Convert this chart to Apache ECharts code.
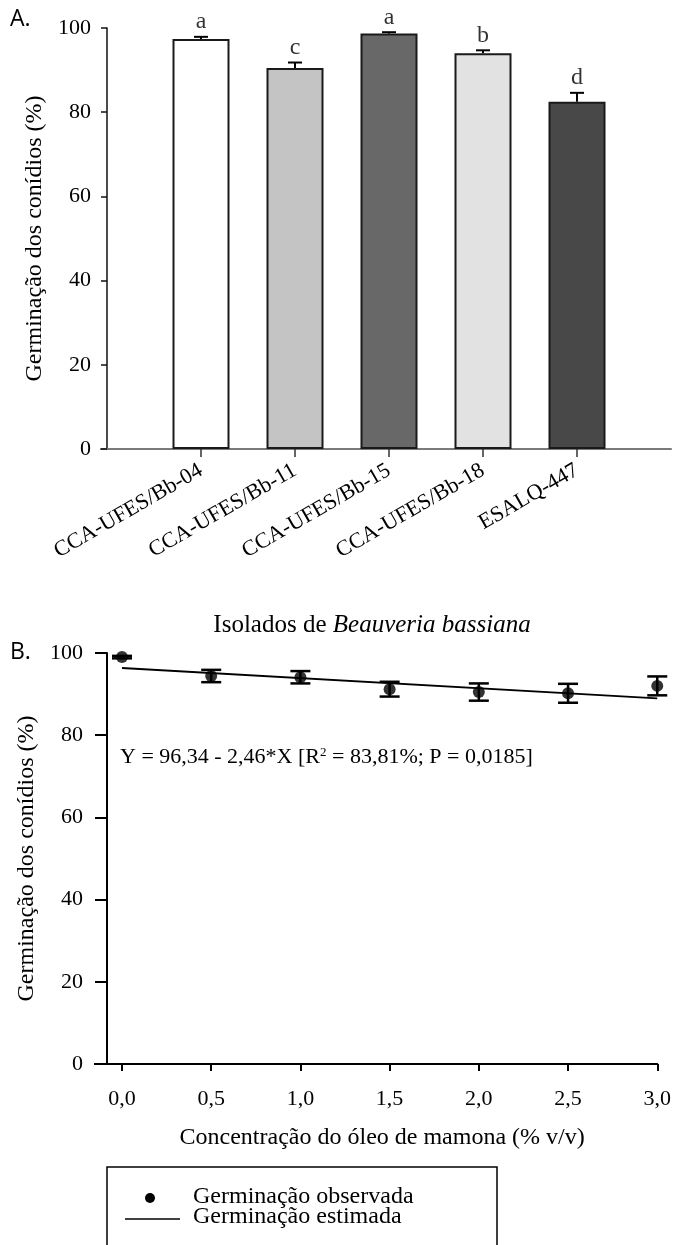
<!DOCTYPE html>
<html>
<head>
<meta charset="utf-8">
<script src="https://cdn.jsdelivr.net/npm/echarts@6/dist/echarts.min.js"></script>
<style>
    body { margin: 0; background: #fff; }
    #main { width: 674px; height: 1245px; }
</style>
</head>
<body>
<div id="main"></div>
<script>
// A. germinação por isolado
var isolados = ['CCA-UFES/Bb-04', 'CCA-UFES/Bb-11', 'CCA-UFES/Bb-15', 'CCA-UFES/Bb-18', 'ESALQ-447'];
var germIsolado = [97.4, 90.5, 98.7, 94.0, 82.5];
var erroIsolado = [0.5, 1.3, 0.3, 0.7, 2.1];
var letras = ['a', 'c', 'a', 'b', 'd'];
var coresBarra = ['#ffffff', '#c4c4c4', '#686868', '#e2e2e2', '#484848'];

// B. germinação x concentração do óleo
var concentracao = [0, 0.5, 1.0, 1.5, 2.0, 2.5, 3.0];
var germObservada = [99.0, 94.4, 94.1, 91.2, 90.5, 90.2, 92.0];
var erroObservada = [0.3, 1.5, 1.5, 1.8, 2.1, 2.3, 2.3];
var retaX = [0, 3.0];
var retaY = [96.34, 88.96];
var ticksX = [0, 0.5, 1.0, 1.5, 2.0, 2.5, 3.0];
var ticksXLabel = ['0,0', '0,5', '1,0', '1,5', '2,0', '2,5', '3,0'];

var serif = '"Liberation Serif", "Times New Roman", serif';
var sans = '"Open Sans", "Noto Sans", sans-serif';

var myChart = echarts.init(document.getElementById('main'));

// categorias com posições vazias nas pontas
var categorias = [''].concat(isolados).concat(['']);
var soMeio = function (index) {
    return index > 0 && index < categorias.length - 1;
};

var each = function (arr, fn) {
    for (var i = 0; i < arr.length; i++) fn(i, arr[i]);
};

var barras = [], letraPts = [], erroBarra = [];
each(germIsolado, function (i, v) {
    barras.push({
        value: [i + 1, v],
        itemStyle: {color: coresBarra[i]}
    });
    erroBarra.push([i + 1, v, erroIsolado[i]]);
    letraPts.push({value: [i + 1, v + erroIsolado[i]], letra: letras[i]});
});

var pontos = [], erroPontos = [], reta = [];
each(concentracao, function (i, x) {
    pontos.push([x, germObservada[i]]);
    erroPontos.push([x, germObservada[i], erroObservada[i]]);
});
each(retaX, function (i, x) {
    reta.push([x, retaY[i]]);
});

var eixoNome = {fontFamily: serif, fontSize: 24, color: '#000'};

var option = {
    animation: false,
    backgroundColor: '#fff',
    grid: [
        {left: 107, right: 3, top: 28, height: 421},
        {left: 107, width: 551, top: 653, height: 411}
    ],
    xAxis: [
        {
            gridIndex: 0,
            type: 'category',
            data: categorias,
            boundaryGap: false,
            axisLine: {onZero: false, lineStyle: {color: '#7a7a7a', width: 2}},
            axisTick: {length: 8, interval: soMeio, lineStyle: {color: '#333', width: 1.5}},
            axisLabel: {
                interval: soMeio,
                rotate: 30,
                margin: 20,
                fontFamily: serif,
                fontSize: 22,
                color: '#000'
            },
            splitLine: {show: false}
        },
        {
            gridIndex: 1,
            type: 'value',
            min: -0.084,
            max: 3.0,
            name: 'Concentração do óleo de mamona (% v/v)',
            nameLocation: 'middle',
            nameGap: 62,
            nameTextStyle: eixoNome,
            axisLine: {onZero: false, lineStyle: {color: '#000', width: 2}},
            axisTick: {length: 7, customValues: ticksX, lineStyle: {color: '#000', width: 2}},
            axisLabel: {
                customValues: ticksX,
                margin: 24,
                fontFamily: serif,
                fontSize: 22,
                color: '#000',
                formatter: function (v) {
                    var k = ticksX.indexOf(v);
                    return k >= 0 ? ticksXLabel[k] : '';
                }
            },
            splitLine: {show: false}
        }
    ],
    yAxis: [
        {
            gridIndex: 0,
            type: 'value',
            min: 0,
            max: 100,
            interval: 20,
            name: 'Germinação dos conídios (%)',
            nameLocation: 'middle',
            nameGap: 60,
            nameTextStyle: eixoNome,
            axisLine: {show: true, onZero: false, lineStyle: {color: '#111', width: 1.5}},
            axisTick: {show: true, length: 6, lineStyle: {color: '#111', width: 1.5}},
            axisLabel: {margin: 16, fontFamily: serif, fontSize: 22, color: '#000'},
            splitLine: {show: false}
        },
        {
            gridIndex: 1,
            type: 'value',
            min: 0,
            max: 100,
            interval: 20,
            name: 'Germinação dos conídios (%)',
            nameLocation: 'middle',
            nameGap: 60,
            nameTextStyle: eixoNome,
            axisLine: {show: true, onZero: false, lineStyle: {color: '#000', width: 2}},
            axisTick: {show: true, length: 12, lineStyle: {color: '#000', width: 2}},
            axisLabel: {margin: 24, fontFamily: serif, fontSize: 22, color: '#000'},
            splitLine: {show: false}
        }
    ],
    series: [
        {
            type: 'bar',
            xAxisIndex: 0,
            yAxisIndex: 0,
            barWidth: 57,
            data: barras,
            itemStyle: {borderColor: '#1a1a1a', borderWidth: 2}
        },
        {
            // barra de erro (só para cima)
            type: 'custom',
            xAxisIndex: 0,
            yAxisIndex: 0,
            data: erroBarra,
            z: 5,
            renderItem: function (params, api) {
                var x = api.value(0), v = api.value(1), e = api.value(2);
                var p0 = api.coord([x, v]);
                var p1 = api.coord([x, v + e]);
                var st = {stroke: '#000', lineWidth: 2};
                return {
                    type: 'group',
                    children: [
                        {type: 'line', shape: {x1: p0[0], y1: p0[1], x2: p1[0], y2: p1[1]}, style: st},
                        {type: 'line', shape: {x1: p1[0] - 7, y1: p1[1], x2: p1[0] + 7, y2: p1[1]}, style: st}
                    ]
                };
            }
        },
        {
            // letras da comparação de médias
            type: 'scatter',
            xAxisIndex: 0,
            yAxisIndex: 0,
            symbolSize: 0,
            data: letraPts,
            label: {
                show: true,
                position: 'top',
                distance: 3,
                fontFamily: serif,
                fontSize: 24,
                color: '#000',
                formatter: function (p) {
                    return p.data.letra;
                }
            }
        },
        {
            type: 'custom',
            xAxisIndex: 1,
            yAxisIndex: 1,
            data: erroPontos,
            z: 3,
            renderItem: function (params, api) {
                var x = api.value(0), v = api.value(1), e = api.value(2);
                var a = api.coord([x, v - e]);
                var b = api.coord([x, v + e]);
                var st = {stroke: '#000', lineWidth: 2.5};
                return {
                    type: 'group',
                    children: [
                        {type: 'line', shape: {x1: a[0], y1: a[1], x2: b[0], y2: b[1]}, style: st},
                        {type: 'line', shape: {x1: a[0] - 10, y1: a[1], x2: a[0] + 10, y2: a[1]}, style: st},
                        {type: 'line', shape: {x1: b[0] - 10, y1: b[1], x2: b[0] + 10, y2: b[1]}, style: st}
                    ]
                };
            }
        },
        {
            name: 'Germinação estimada',
            type: 'line',
            xAxisIndex: 1,
            yAxisIndex: 1,
            data: reta,
            symbol: 'none',
            z: 4,
            lineStyle: {color: '#000', width: 2}
        },
        {
            name: 'Germinação observada',
            type: 'scatter',
            xAxisIndex: 1,
            yAxisIndex: 1,
            data: pontos,
            symbolSize: 12,
            z: 6,
            itemStyle: {color: '#000'}
        }
    ],
    graphic: [
        {type: 'text', left: 10, top: 8, style: {text: 'A.', font: '23px ' + sans, fill: '#000'}},
        {type: 'text', left: 10, top: 641, style: {text: 'B.', font: '23px ' + sans, fill: '#000'}},
        {
            type: 'text',
            x: 372,
            y: 625,
            style: {
                text: 'Isolados de {i|Beauveria bassiana}',
                align: 'center',
                verticalAlign: 'middle',
                fontFamily: serif,
                fontSize: 25,
                fill: '#000',
                rich: {i: {fontStyle: 'italic', fontFamily: serif, fontSize: 25}}
            }
        },
        {
            type: 'text',
            x: 120,
            y: 757,
            style: {
                text: 'Y = 96,34 - 2,46*X [R{sup|2} = 83,81%; P = 0,0185]',
                verticalAlign: 'middle',
                fontFamily: serif,
                fontSize: 22,
                fill: '#000',
                rich: {sup: {fontFamily: serif, fontSize: 13, verticalAlign: 'top', lineHeight: 22}}
            }
        },
        // segmento do eixo x à esquerda do eixo y
        {type: 'line', shape: {x1: 100, y1: 449, x2: 107, y2: 449}, style: {stroke: '#7a7a7a', lineWidth: 2}},
        {type: 'line', shape: {x1: 94, y1: 1064, x2: 107, y2: 1064}, style: {stroke: '#000', lineWidth: 2}},
        // legenda
        {
            type: 'rect',
            shape: {x: 107, y: 1167, width: 390, height: 110},
            style: {fill: 'none', stroke: '#000', lineWidth: 1.5}
        },
        {type: 'circle', shape: {cx: 150, cy: 1198, r: 5}, style: {fill: '#000'}},
        {type: 'line', shape: {x1: 125, y1: 1219, x2: 180, y2: 1219}, style: {stroke: '#000', lineWidth: 1.5}},
        {
            type: 'text', x: 193, y: 1197,
            style: {text: 'Germinação observada', verticalAlign: 'middle', fontFamily: serif, fontSize: 24, fill: '#000'}
        },
        {
            type: 'text', x: 193, y: 1217,
            style: {text: 'Germinação estimada', verticalAlign: 'middle', fontFamily: serif, fontSize: 24, fill: '#000'}
        }
    ]
};

myChart.setOption(option);
</script>
</body>
</html>
